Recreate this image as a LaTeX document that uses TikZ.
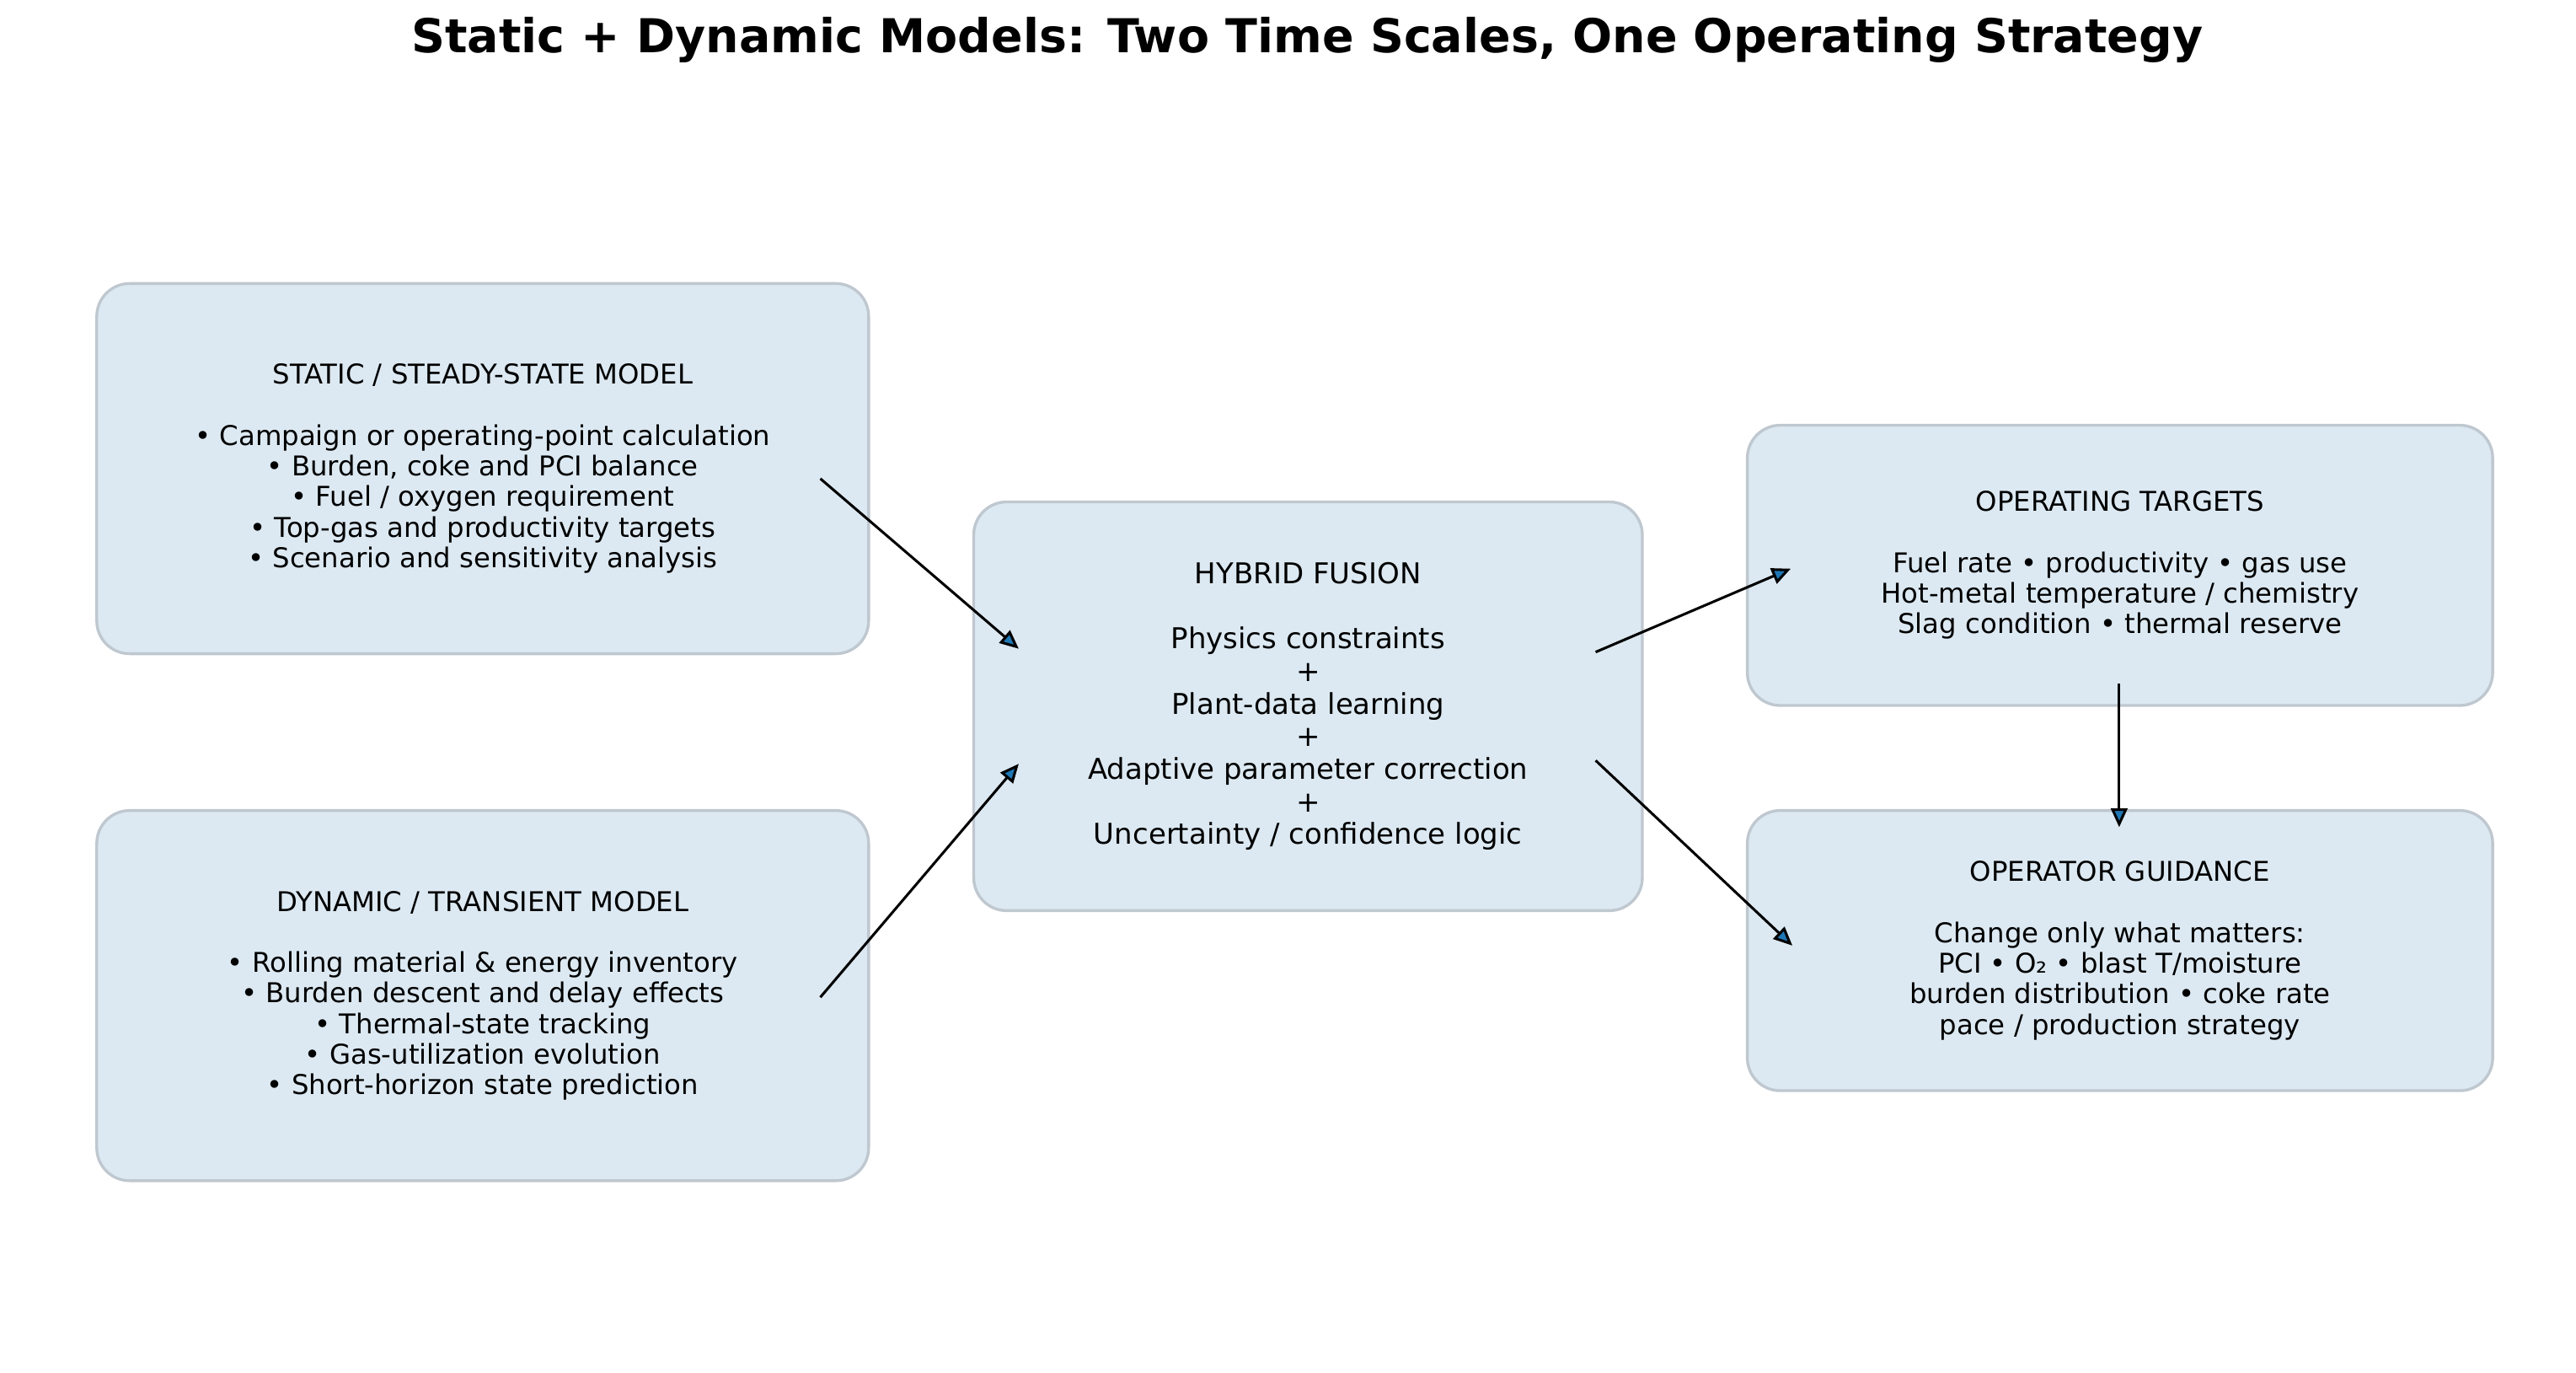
\documentclass[tikz,border=0pt]{standalone}
\usepackage{fontspec}
\setmainfont{DejaVu Sans}
\usetikzlibrary{arrows.meta, positioning}
\definecolor{boxfill}{HTML}{DCE9F2}
\definecolor{boxline}{HTML}{BFC7CF}
\definecolor{tipblue}{HTML}{1F77B4}
\tikzset{
	box/.style = {draw=boxline, fill=boxfill, line width=1.2pt, rounded corners=14pt,
		align=center, font=\fontsize{11.6}{13.0}\selectfont},
	arr/.style = {line width=1.1pt, -{Triangle[length=8pt, width=7pt, fill=tipblue]}},
}
\begin{document}
\begin{tikzpicture}[x=0.71pt, y=-0.71pt]
	\useasboundingbox (0,0) rectangle (1545,823);
	
	\node [font=\fontsize{19.9}{22}\selectfont\bfseries] (title) at (784,24)
	{Static + Dynamic Models: Two Time Scales, One Operating Strategy};
	
	\node [box, minimum width=328.7pt, minimum height=157.6pt] (static) at (289.5,281)
	{STATIC / STEADY-STATE MODEL\\ \mbox{}\\
		• Campaign or operating-point calculation\\
		• Burden, coke and PCI balance\\
		• Fuel / oxygen requirement\\
		• Top-gas and productivity targets\\
		• Scenario and sensitivity analysis};
	
	\node [box, minimum width=328.7pt, minimum height=157.6pt] (dynamic) at (289.5,597)
	{DYNAMIC / TRANSIENT MODEL\\ \mbox{}\\
		• Rolling material \& energy inventory\\
		• Burden descent and delay effects\\
		• Thermal-state tracking\\
		• Gas-utilization evolution\\
		• Short-horizon state prediction};
	
	\node [box, minimum width=284.7pt, minimum height=174pt,
	font=\fontsize{12.2}{13.9}\selectfont] (fusion) at (784.5,423.5)
	{HYBRID FUSION\\ \mbox{}\\
		Physics constraints\\ +\\ Plant-data learning\\ +\\
		Adaptive parameter correction\\ +\\ Uncertainty / confidence logic};
	
	\node [box, minimum width=317.4pt, minimum height=119.3pt] (targets) at (1271.5,339)
	{OPERATING TARGETS\\ \mbox{}\\
		Fuel rate • productivity • gas use\\
		Hot-metal temperature / chemistry\\
		Slag condition • thermal reserve};
	
	\node [box, minimum width=317.4pt, minimum height=119.3pt] (guidance) at (1271.5,570)
	{OPERATOR GUIDANCE\\ \mbox{}\\
		Change only what matters:\\
		PCI • O₂ • blast T/moisture\\
		burden distribution • coke rate\\
		pace / production strategy};
	
	% arrow ends
	\coordinate (s1) at (492,287);   \coordinate (f1) at (611,389);
	\coordinate (d1) at (492,598);   \coordinate (f2) at (611,458);
	\coordinate (f3) at (957,391);   \coordinate (t1) at (1074,341);
	\coordinate (f4) at (957,456);   \coordinate (g1) at (1075,567);
	\coordinate (t2) at (1271,410);  \coordinate (g2) at (1271,496);
	
	\draw [arr] (s1) -- (f1);
	\draw [arr] (d1) -- (f2);
	\draw [arr] (f3) -- (t1);
	\draw [arr] (f4) -- (g1);
	\draw [arr] (t2) -- (g2);
\end{tikzpicture}
\end{document}
